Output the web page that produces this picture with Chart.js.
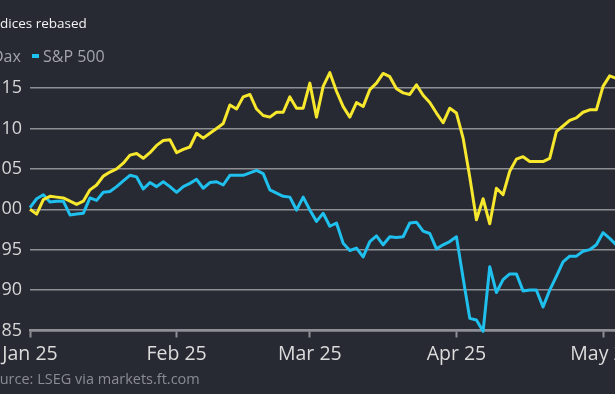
<!DOCTYPE html>
<html>
<head>
<meta charset="utf-8">
<script src="https://cdn.jsdelivr.net/npm/chart.js@4.4.1/dist/chart.umd.min.js"></script>
<style>
  html, body { margin: 0; padding: 0; background: #272a33; width: 615px; height: 394px; overflow: hidden; }
  #wrap { position: relative; width: 615px; height: 394px; overflow: hidden; font-family: "Open Sans", sans-serif; }
  #c { position: absolute; left: -30px; top: 0; }
  .t { position: absolute; white-space: nowrap; }
  #title { left: -12px; top: 13px; font-size: 13.5px; line-height: 20px; color: #f4f4f4; }
  .leg { top: 46px; font-size: 16px; line-height: 20px; color: #a3a5aa; }
  .mk { position: absolute; width: 7px; height: 4px; top: 54px; }
  #src { left: -17px; top: 369px; font-size: 14.5px; line-height: 20px; color: #8a8c92; }
</style>
</head>
<body>
<div id="wrap">
  <canvas id="c" width="690" height="394"></canvas>
  <div class="t" id="title">Indices rebased</div>
  <div class="mk" style="left:-20px;background:#f5e52f"></div>
  <div class="t leg" style="left:-8px">Dax</div>
  <div class="mk" style="left:32px;background:#1fc0ee"></div>
  <div class="t leg" style="left:43px">S&amp;P 500</div>
  <div class="t" id="src">Source: LSEG via markets.ft.com</div>
</div>
<script>
// Trading-day index (0 = 2 Jan 2025), values rebased to 100
const dax = [
  100.0, 99.4, 101.2, 101.6, 101.5, 101.4, 101.0, 100.6, 101.0, 102.4,
  103.0, 104.1, 104.6, 105.0, 105.7, 106.7, 106.9, 106.3, 107.0, 107.9,
  108.5, 108.6, 107.0, 107.4, 107.7, 109.4, 108.8, 109.4, 110.0, 110.6,
  112.9, 112.4, 113.9, 114.2, 112.4, 111.6, 111.4, 112.0, 112.0, 113.9,
  112.5, 112.5, 115.6, 111.4, 115.2, 116.9, 114.6, 112.7, 111.4, 113.2,
  112.7, 114.8, 115.6, 116.8, 116.4, 114.9, 114.4, 114.2, 115.4, 114.1,
  113.2, 111.9, 110.7, 112.5, 111.9, 108.8, 104.0, 98.7, 101.3, 98.2,
  102.6, 101.8, 104.7, 106.2, 106.5, 105.9, 105.9, 105.9, 106.3, 109.6,
  110.3, 111.0, 111.3, 112.0, 112.3, 112.3, 115.2, 116.5, 116.2
];
const sp500 = [
  100.2, 101.3, 101.8, 100.9, 101.0, 101.0, 99.3, 99.4, 99.5, 101.4,
  101.1, 102.1, 102.2, 102.8, 103.5, 104.2, 104.0, 102.5, 103.3, 102.8,
  103.4, 102.8, 102.1, 102.8, 103.2, 103.7, 102.6, 103.3, 103.4, 103.0,
  104.2, 104.2, 104.2, 104.5, 104.8, 104.4, 102.4, 102.0, 101.6, 101.5,
  99.9, 101.5, 99.9, 98.5, 99.5, 97.9, 98.3, 95.8, 94.9, 95.2,
  94.1, 96.0, 96.7, 95.6, 96.6, 96.5, 96.6, 98.3, 98.4, 97.3,
  97.0, 95.1, 95.6, 96.0, 96.6, 91.5, 86.5, 86.3, 84.9, 92.9,
  89.7, 91.3, 92.0, 92.0, 89.9, 90.0, 90.0, 87.9, 90.0, 91.7,
  93.5, 94.2, 94.2, 94.8, 95.0, 95.6, 97.1, 96.4, 95.6
];
const monthTickIndex = [0, 22, 42, 64, 86];
const monthTickLabels = ['Jan 25', 'Feb 25', 'Mar 25', 'Apr 25', 'May 25'];
const yTicks = [85, 90, 95, 100, 105, 110, 115];

const GRID = '#8d8f95';
const toPts = arr => arr.map((v, i) => ({ x: i, y: v }));

new Chart(document.getElementById('c'), {
  type: 'line',
  data: {
    datasets: [
      { label: 'Dax', data: toPts(dax), borderColor: '#f7e82e', borderWidth: 3, pointRadius: 0, tension: 0, clip: false, borderJoinStyle: 'round' },
      { label: 'S&P 500', data: toPts(sp500), borderColor: '#1fc0ee', borderWidth: 3, pointRadius: 0, tension: 0, clip: false, borderJoinStyle: 'round' }
    ]
  },
  options: {
    responsive: false,
    animation: false,
    events: [],
    layout: { padding: { top: 88, right: 17, bottom: 0, left: 0 } },
    plugins: { legend: { display: false }, tooltip: { enabled: false }, title: { display: false } },
    scales: {
      x: {
        type: 'linear',
        min: 0,
        max: 92,
        afterFit: s => { s.height = 63.5; },
        afterBuildTicks: s => { s.ticks = monthTickIndex.map(v => ({ value: v })); },
        grid: { display: true, drawOnChartArea: false, drawTicks: true, tickLength: 7, tickColor: GRID, tickWidth: 2 },
        border: { display: true, color: GRID, width: 2.5 },
        ticks: {
          autoSkip: false, maxRotation: 0, padding: 5,
          color: '#dcdcdc',
          font: { family: 'Open Sans', size: 19.5 },
          callback: v => monthTickLabels[monthTickIndex.indexOf(v)]
        }
      },
      y: {
        min: 85,
        max: 115,
        afterFit: s => { s.width = 60; },
        afterBuildTicks: s => { s.ticks = yTicks.map(v => ({ value: v })); },
        grid: { color: GRID, lineWidth: 1.5, drawTicks: false },
        border: { display: false },
        ticks: {
          padding: 8,
          color: '#d6d6d6',
          font: { family: 'Open Sans', size: 18 },
          callback: v => String(v)
        }
      }
    }
  }
});
</script>
</body>
</html>
